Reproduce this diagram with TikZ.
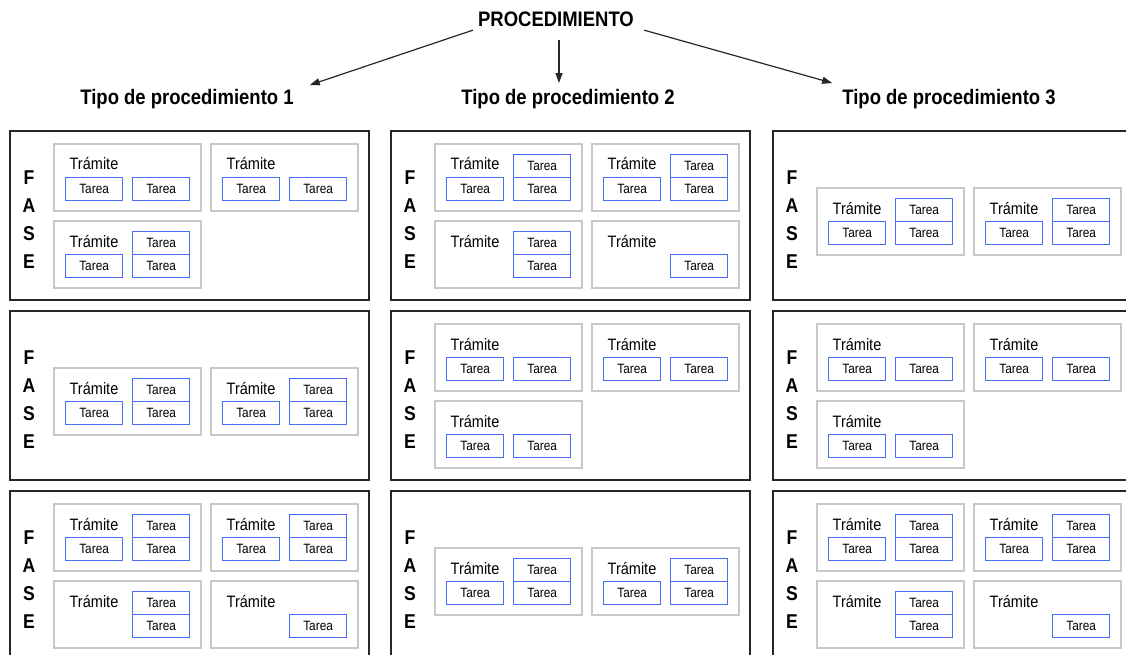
\documentclass[tikz,border=0pt]{standalone}
\usepackage{fontspec}
\setmainfont[FakeStretch=0.88]{Liberation Sans}
\usetikzlibrary{arrows.meta}

\definecolor{tareablue}{RGB}{72,110,245}
\definecolor{tramitegray}{RGB}{200,200,200}

\tikzset{
  titulo/.style={font=\bfseries\fontsize{21}{25}\selectfont, inner sep=0pt},
  fasebox/.style={draw=black!85, line width=1.5pt, anchor=north west, minimum width=359pt, minimum height=169pt, inner sep=0pt},
  fasetxt/.style={font=\bfseries\fontsize{20}{28}\selectfont, align=center, inner sep=0pt},
  tramitebox/.style={draw=tramitegray, line width=1.5pt, anchor=north west, minimum width=147pt, minimum height=67pt, inner sep=0pt},
  tramitetxt/.style={font=\fontsize{16.5}{18}\selectfont, inner sep=0pt},
  tareabox/.style={draw=tareablue, line width=1.3pt, anchor=north west, minimum width=57pt, minimum height=23pt, inner sep=0pt, font=\fontsize{13.5}{15}\selectfont},
  flecha/.style={-{Triangle[length=10pt,width=7pt]}, line width=1.2pt, draw=black!85}
}

% una fase: recuadro y letras
\newcommand{\fase}[1]{%
  \node[fasebox] (#1) at (0,0) {};
  \node[fasetxt] (#1-l) at (20,90) {F\\A\\S\\E};}

% un tramite: nombre, posicion, tarea abajo-izq (0/1), tarea arriba-der (0/1)
\newcommand{\tramite}[4]{%
  \begin{scope}[shift={#2}]
    \node[tramitebox] (#1) at (0,0) {};
    \node[tramitetxt] (#1-t) at (41,21) {Trámite};
    \node[tareabox] (#1-br) at (79,34) {Tarea};
    \ifnum#3=1 \node[tareabox] (#1-bl) at (12,34) {Tarea};\fi
    \ifnum#4=1 \node[tareabox] (#1-tr) at (79,11) {Tarea};\fi
  \end{scope}}

\begin{document}
\begin{tikzpicture}[x=1pt,y=-1pt]
\useasboundingbox (0,0) rectangle (1126,654);

\node[titulo, inner xsep=5pt, inner ysep=3.5pt] (proc) at (556,19) {PROCEDIMIENTO};
\node[titulo] (tipo1) at (187,99) {Tipo de procedimiento 1};
\node[titulo] (tipo2) at (568,99) {Tipo de procedimiento 2};
\node[titulo] (tipo3) at (949,99) {Tipo de procedimiento 3};

\draw[flecha] (proc.south west) -- ([shift={(16pt,4pt)}]tipo1.north east);
\draw[flecha] ([shift={(3pt,-10pt)}]proc.south) -- ([shift={(-9pt,6pt)}]tipo2.north);
\draw[flecha] ([xshift=5pt]proc.south east) -- ([shift={(-10pt,6pt)}]tipo3.north west);

% fila 1
\begin{scope}[shift={(9,130)}]
  \fase{f11}
  \tramite{f11a}{(44,13)}{1}{0}
  \tramite{f11b}{(201,13)}{1}{0}
  \tramite{f11c}{(44,90)}{1}{1}
\end{scope}
\begin{scope}[shift={(390,130)}]
  \fase{f12}
  \tramite{f12a}{(44,13)}{1}{1}
  \tramite{f12b}{(201,13)}{1}{1}
  \tramite{f12c}{(44,90)}{0}{1}
  \tramite{f12d}{(201,90)}{0}{0}
\end{scope}
\begin{scope}[shift={(772,130)}]
  \fase{f13}
  \tramite{f13a}{(44,57)}{1}{1}
  \tramite{f13b}{(201,57)}{1}{1}
\end{scope}

% fila 2
\begin{scope}[shift={(9,310)}]
  \fase{f21}
  \tramite{f21a}{(44,57)}{1}{1}
  \tramite{f21b}{(201,57)}{1}{1}
\end{scope}
\begin{scope}[shift={(390,310)}]
  \fase{f22}
  \tramite{f22a}{(44,13)}{1}{0}
  \tramite{f22b}{(201,13)}{1}{0}
  \tramite{f22c}{(44,90)}{1}{0}
\end{scope}
\begin{scope}[shift={(772,310)}]
  \fase{f23}
  \tramite{f23a}{(44,13)}{1}{0}
  \tramite{f23b}{(201,13)}{1}{0}
  \tramite{f23c}{(44,90)}{1}{0}
\end{scope}

% fila 3
\begin{scope}[shift={(9,490)}]
  \fase{f31}
  \tramite{f31a}{(44,13)}{1}{1}
  \tramite{f31b}{(201,13)}{1}{1}
  \tramite{f31c}{(44,90)}{0}{1}
  \tramite{f31d}{(201,90)}{0}{0}
\end{scope}
\begin{scope}[shift={(390,490)}]
  \fase{f32}
  \tramite{f32a}{(44,57)}{1}{1}
  \tramite{f32b}{(201,57)}{1}{1}
\end{scope}
\begin{scope}[shift={(772,490)}]
  \fase{f33}
  \tramite{f33a}{(44,13)}{1}{1}
  \tramite{f33b}{(201,13)}{1}{1}
  \tramite{f33c}{(44,90)}{0}{1}
  \tramite{f33d}{(201,90)}{0}{0}
\end{scope}
\end{tikzpicture}
\end{document}
